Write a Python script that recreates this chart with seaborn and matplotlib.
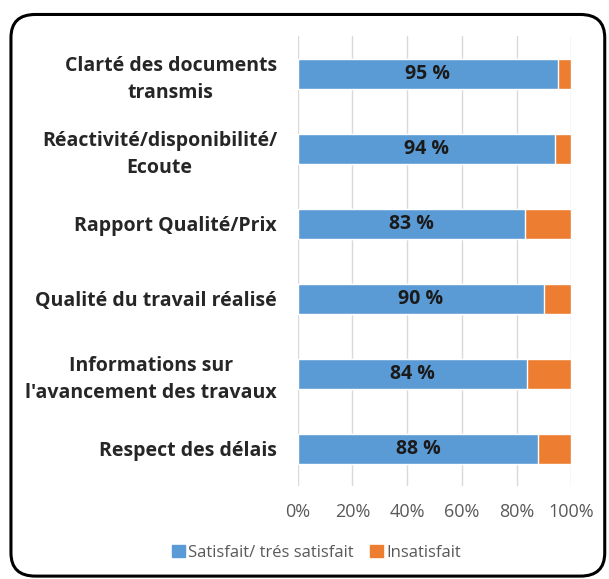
import pandas as pd
import matplotlib.pyplot as plt
import seaborn as sns
from matplotlib.patches import FancyBboxPatch, Patch

categories = ['Clarté des documents\ntransmis',
              'Réactivité/disponibilité/\nEcoute',
              'Rapport Qualité/Prix',
              'Qualité du travail réalisé',
              "Informations sur\nl'avancement des travaux",
              'Respect des délais']
satisfait = [95, 94, 83, 90, 84, 88]
insatisfait = [5, 6, 17, 10, 16, 12]
xticks = [0, 20, 40, 60, 80, 100]

df = pd.DataFrame({'cat': categories, 'sat': satisfait, 'insat': insatisfait})
df['total'] = df.sat + df.insat

blue = '#5B9BD5'
orange = '#ED7D31'

sns.set_style('white')
plt.rcParams['font.family'] = ['Open Sans', 'DejaVu Sans']

fig = plt.figure(figsize=(6.09, 5.79), dpi=100)
ax = fig.add_axes([0.489, 0.160, 0.449, 0.777])

sns.barplot(data=df, x='total', y='cat', color=orange, width=0.4, ax=ax, saturation=1, zorder=2)
sns.barplot(data=df, x='sat', y='cat', color=blue, width=0.4, ax=ax, saturation=1, zorder=3)

for i, v in enumerate(df.sat):
    ax.text(v / 2, i, f'{v} %', ha='center', va='center', fontsize=14,
            fontweight='bold', color='#1a1a1a', zorder=4)

ax.set_xlim(0, 100)
ax.set_ylim(5.5, -0.5)
ax.set_xticks(xticks)
ax.set_xticklabels([f'{t}%' for t in xticks], color='#595959', fontsize=13)
ax.set_yticks(range(len(categories)))
ax.set_yticklabels(categories, fontsize=14, fontweight='bold', multialignment='center',
                   linespacing=1.45)
ax.tick_params(axis='y', length=0, pad=15)
ax.tick_params(axis='x', length=0, pad=12)
ax.xaxis.grid(True, color='#D9D9D9', lw=1, zorder=0)
ax.set_axisbelow(True)
ax.set_xlabel('')
ax.set_ylabel('')
for s in ax.spines.values():
    s.set_visible(False)

handles = [Patch(color=blue, label='Satisfait/ trés satisfait'),
           Patch(color=orange, label='Insatisfait')]
fig.legend(handles=handles, loc='center', bbox_to_anchor=(0.52, 0.045), ncol=2,
           frameon=False, fontsize=12, handlelength=0.75, handleheight=0.75,
           handletextpad=0.2, columnspacing=1.0, labelcolor='#595959')

frame = FancyBboxPatch((0.018, 0.005), 0.975, 0.97, boxstyle='round,pad=0,rounding_size=0.04',
                       transform=fig.transFigure, fill=False, ec='black', lw=2.2)
fig.patches.append(frame)

fig.savefig('out.png', dpi=100)
